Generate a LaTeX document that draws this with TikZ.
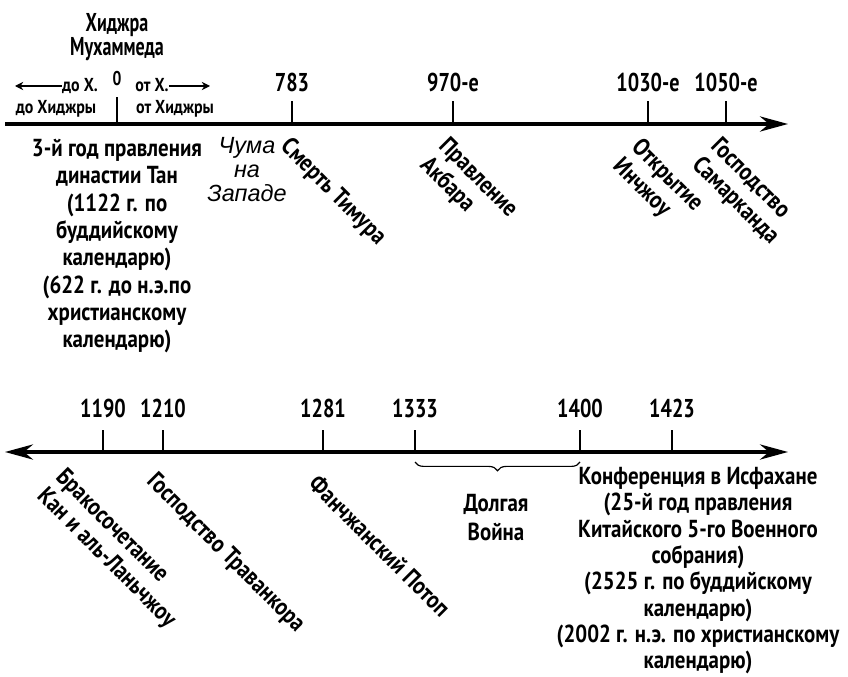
\documentclass[tikz,border=0pt]{standalone}
\usepackage{fontspec}
\setmainfont{PT Sans}[FakeStretch=0.78]
\newfontfamily\labelfont{PT Sans}[FakeStretch=0.85]
\newfontfamily\headfont{PT Sans}[FakeStretch=0.7]
\newfontfamily\plaguefont{Liberation Sans}
\usetikzlibrary{arrows.meta,decorations.pathreplacing}

\begin{document}
\begin{tikzpicture}[x=0.03cm, y=0.03cm,
    lbl/.style={font=\labelfont\fontsize{21}{22.5}\selectfont\bfseries, inner sep=0pt, align=center},
    year/.style={font=\fontsize{22}{24}\selectfont\bfseries, inner sep=0pt, anchor=base},
    small/.style={font=\labelfont\fontsize{16}{17}\selectfont\bfseries, inner sep=0pt, anchor=base},
    slant/.style={lbl, align=left, rotate=-45, anchor=north west},
    plague/.style={font=\plaguefont\itshape\fontsize{20}{20.4}\selectfont, inner sep=0pt, align=center},
    axis/.style={line width=2.6pt},
    tick/.style={line width=1.6pt},
    thinarrow/.style={line width=1pt, -{Stealth[length=7pt,width=7pt]}}]
    \path[fill=white] (0,0) rectangle (848,-676);
    % upper time line
    \coordinate (topL) at (5,-124);
    \coordinate (topR) at (788,-124);
    \draw[axis, -{Stealth[length=24pt,width=13pt]}] (topL) -- (topR);
    \coordinate (h0) at (117,-124);
    \coordinate (h0t) at (117,-97);
    \draw[tick] (h0) -- (h0t);
    \foreach \x/\yr in {292/783, 453/970-е, 648/1030-е, 726/1050-е} {
        \coordinate (b\x) at (\x,-124);
        \coordinate (u\x) at (\x,-101);
        \draw[tick] (b\x) -- (u\x);
        \node[year] (y\x) at (\x,-92) {\yr};
    }
    \node[lbl, font=\headfont\fontsize{22}{19.6}\selectfont\bfseries, anchor=north] (hijra) at (117,-13) {Хиджра\\Мухаммеда};
    \node[year, font=\fontsize{17}{18}\selectfont\bfseries] (zero) at (117,-86) {0};
    \node[small] (doX) at (80,-92) {до Х.};
    \node[small] (otX) at (152,-92) {от Х.};
    \coordinate (doXend) at (15,-86);
    \coordinate (otXend) at (210,-86);
    \draw[thinarrow] (doX.west |- doXend) -- (doXend);
    \draw[thinarrow] (otX.east |- otXend) -- (otXend);
    \node[small] (doH) at (56,-114) {до Хиджры};
    \node[small] (otH) at (175,-114) {от Хиджры};
    \node[lbl, font=\labelfont\fontsize{21}{23.3}\selectfont\bfseries, anchor=north] (tang) at (117,-139) {3-й год правления\\династии Тан\\(1122 г. по\\буддийскому\\календарю)\\(622 г. до н.э.по\\христианскому\\календарю)};
    \node[plague, anchor=north] (plague) at (247,-137) {Чума\\на\\Западе};
    \node[slant] (timur) at (292,-135) {Смерть Тимура};
    \node[slant] (akbar) at (450,-135) {Правление\\Акбара};
    \node[slant] (inchzhou) at (643,-136) {Открытие\\Инчжоу};
    \node[slant] (samark) at (722,-135) {Господство\\Самарканда};
    % lower time line
    \coordinate (botL) at (5,-452);
    \coordinate (botR) at (788,-452);
    \draw[axis, {Stealth[length=24pt,width=13pt]}-{Stealth[length=24pt,width=13pt]}] (botL) -- (botR);
    \foreach \x/\yr in {103/1190, 163/1210, 323/1281, 415/1333, 580/1400, 672/1423} {
        \coordinate (b\x) at (\x,-452);
        \coordinate (u\x) at (\x,-430);
        \draw[tick] (b\x) -- (u\x);
        \node[year] (y\x) at (\x,-417) {\yr};
    }
    \node[slant] (wedding) at (67,-466) {Бракосочетание\\Кан и аль-Ланьчжоу};
    \node[slant] (travan) at (158,-470) {Господство Траванкора};
    \node[slant] (flood) at (320,-473) {Фанчжанский Потоп};
    \coordinate (warL) at (415,-462);
    \coordinate (warR) at (580,-462);
    \draw[decorate, decoration={brace, mirror, amplitude=7.5pt}, line width=1pt] (warL) -- (warR);
    \node[lbl, font=\labelfont\fontsize{21}{25}\selectfont\bfseries, anchor=north] (war) at (496,-494) {Долгая\\Война};
    \node[lbl, anchor=north] (isf) at (698,-467) {Конференция в Исфахане\\(25-й год правления\\Китайского 5-го Военного\\собрания)\\(2525 г. по буддийскому\\календарю)\\(2002 г. н.э. по христианскому\\календарю)};
\end{tikzpicture}
\end{document}
